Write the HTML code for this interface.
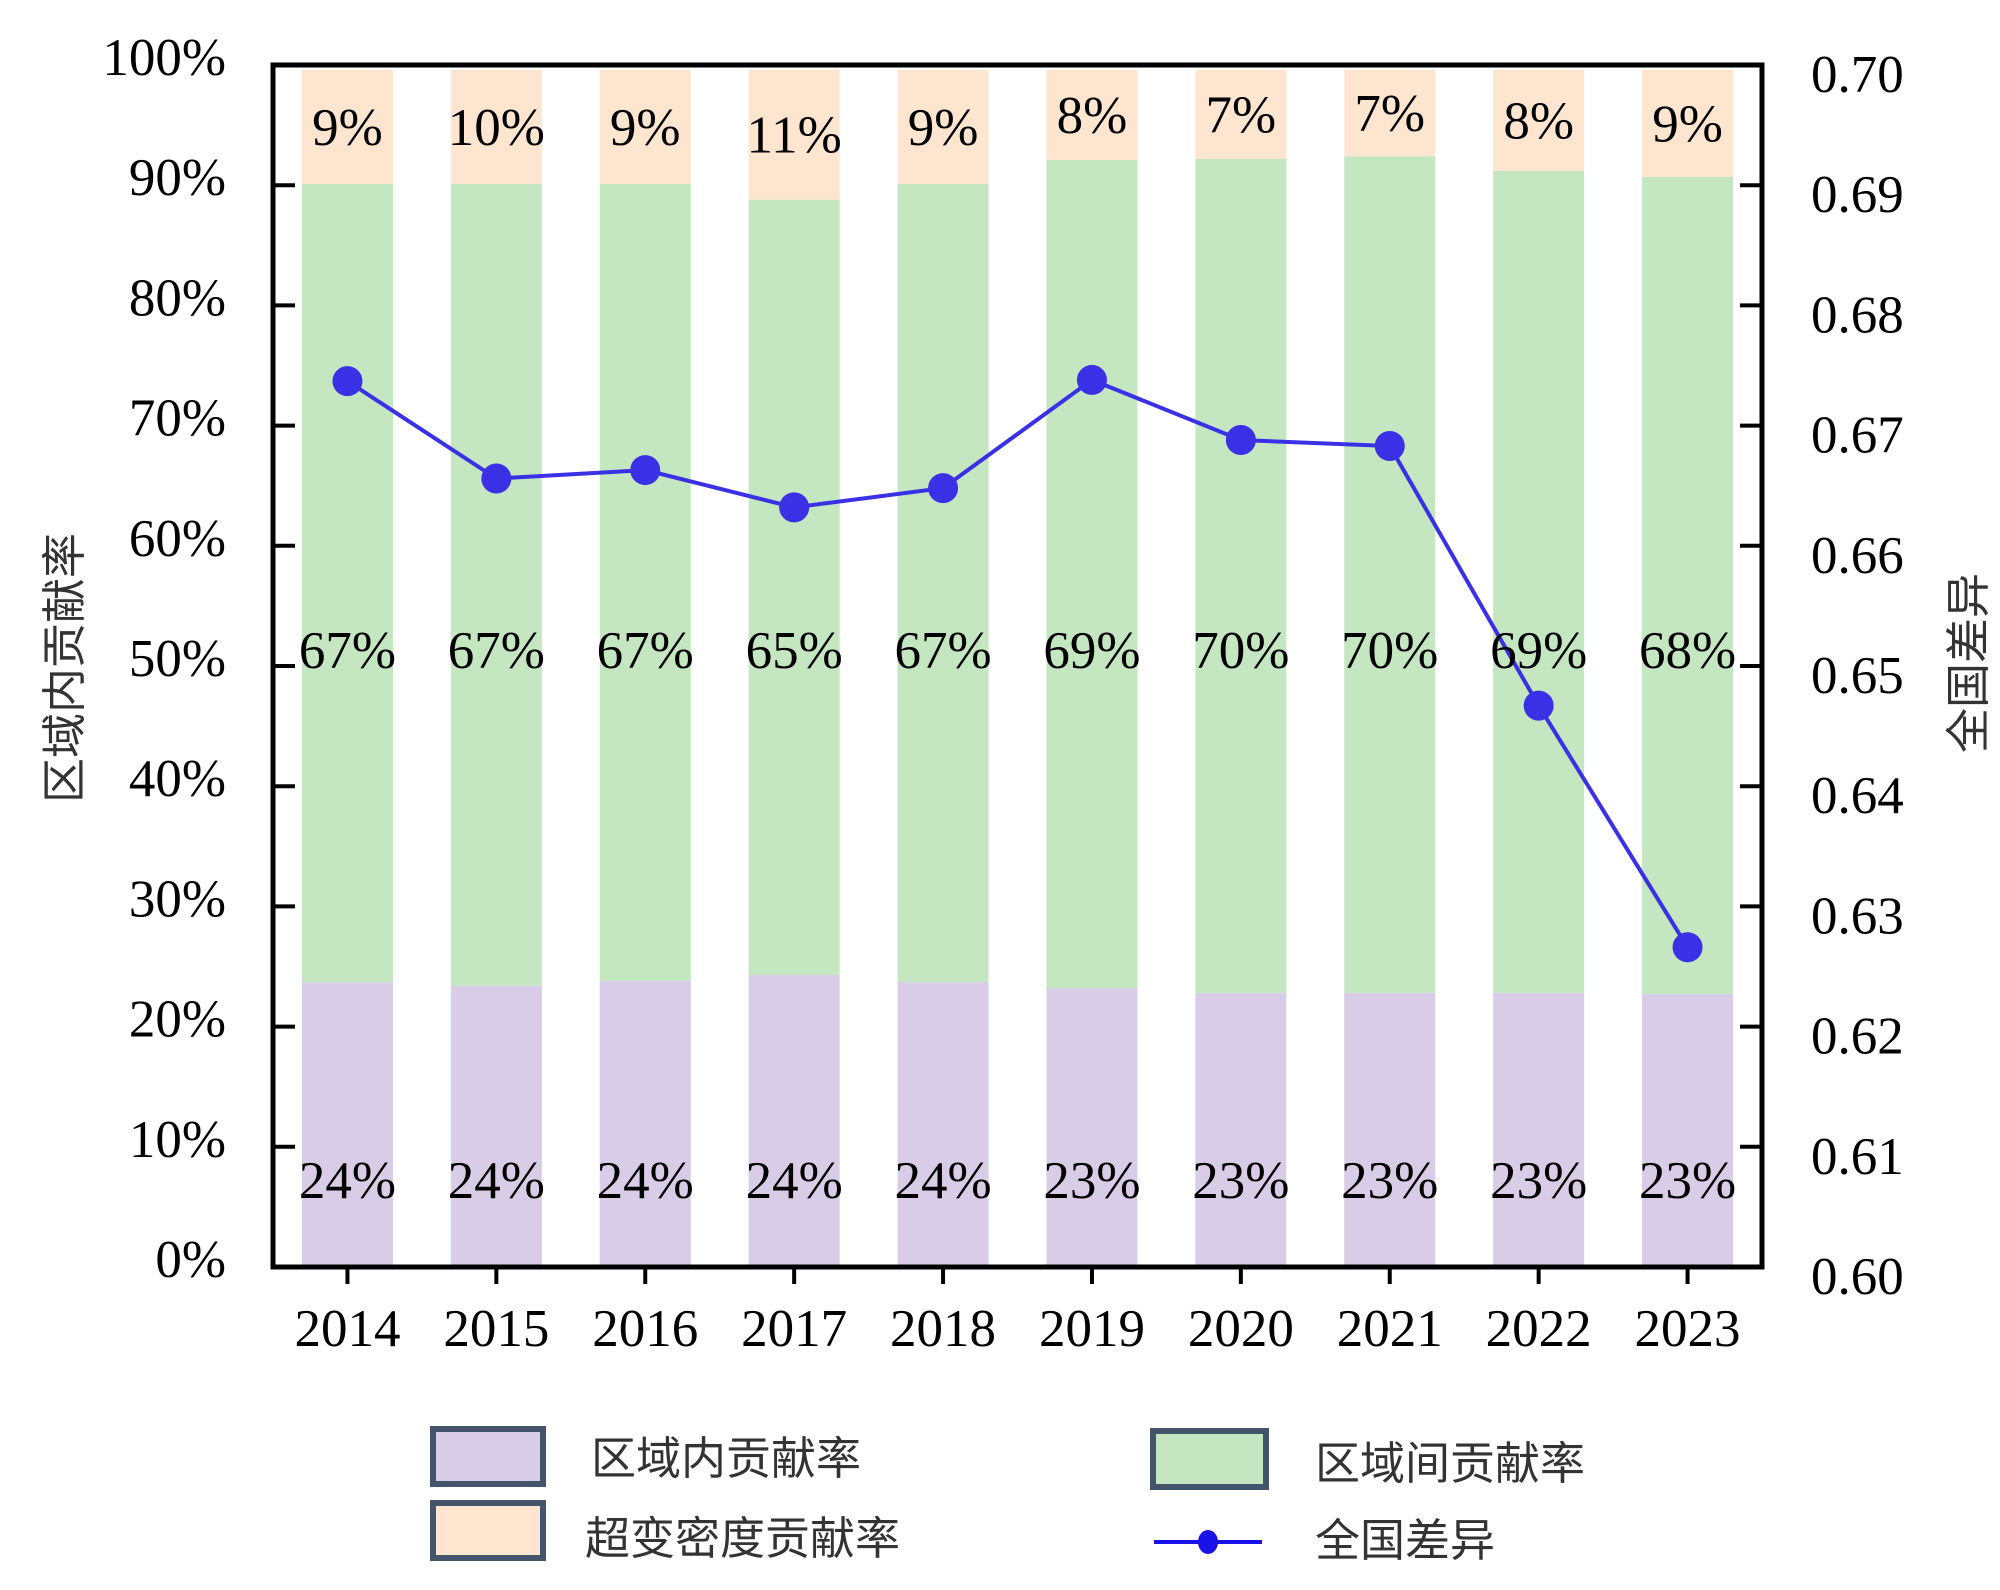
<!DOCTYPE html>
<html><head><meta charset="utf-8">
<style>
html,body{margin:0;padding:0;background:#fff;}
svg{display:block;}
.num{font-family:"Liberation Serif","Noto Serif CJK SC",serif;font-size:53px;fill:#000;}
.cjk{font-family:"Liberation Sans","Noto Sans CJK SC",sans-serif;font-size:45px;fill:#333;}
</style></head>
<body>
<svg id="chart" width="2000" height="1590" viewBox="0 0 2000 1590" xmlns="http://www.w3.org/2000/svg">
<g id="bars"></g>
<g id="line"></g>
<g id="axes"></g>
<g id="labels"></g>
<text class="cjk" font-size="55" fill="#333" text-anchor="middle" transform="translate(80,668) rotate(-90)">区域内贡献率</text>
<text class="cjk" font-size="57" fill="#333" text-anchor="middle" transform="translate(1984,663) rotate(-90)">全国差异</text>
<g>
 <rect x="433" y="1429" width="110" height="55" fill="#d9cce6" stroke="#44546a" stroke-width="6"/>
 <text class="cjk" x="591" y="1474">区域内贡献率</text>
 <rect x="433" y="1503" width="110" height="55" fill="#fde5cf" stroke="#44546a" stroke-width="6"/>
 <text class="cjk" x="585" y="1554">超变密度贡献率</text>
 <rect x="1153" y="1431" width="113" height="56" fill="#c4e6c1" stroke="#44546a" stroke-width="6"/>
 <text class="cjk" x="1315" y="1479">区域间贡献率</text>
 <line x1="1154" y1="1542" x2="1262" y2="1542" stroke="#1a10e8" stroke-width="4"/>
 <ellipse cx="1208" cy="1542" rx="10" ry="12" fill="#1a10e8"/>
 <text class="cjk" x="1315" y="1556">全国差异</text>
</g>
</svg>
<script>
const years = ["2014","2015","2016","2017","2018","2019","2020","2021","2022","2023"];
const intraShare = [23.7,23.4,23.8,24.3,23.7,23.2,22.8,22.8,22.8,22.7];
const interTop = [90.1,90.1,90.1,88.8,90.1,92.1,92.2,92.4,91.2,90.7];
const hyperTop = [99.6,99.6,99.6,99.6,99.6,99.6,99.6,99.6,99.6,99.6];
const intraLabels = ["24%","24%","24%","24%","24%","23%","23%","23%","23%","23%"];
const interLabels = ["67%","67%","67%","65%","67%","69%","70%","70%","69%","68%"];
const hyperLabels = ["9%","10%","9%","11%","9%","8%","7%","7%","8%","9%"];
const nationalDiff = [0.6737,0.6656,0.6663,0.6632,0.6648,0.6738,0.6688,0.6683,0.6467,0.6266];
const leftTicks = ["0%","10%","20%","30%","40%","50%","60%","70%","80%","90%","100%"];
const rightTicks = ["0.60","0.61","0.62","0.63","0.64","0.65","0.66","0.67","0.68","0.69","0.70"];

const NS="http://www.w3.org/2000/svg";
const L=273,R=1762,T=65,B=1267;
const band=(R-L)/years.length, bw=91;
const xc=i=>L+band*(i+0.5);
const yL=v=>B-(B-T)*v/100;
const yR=v=>B-(B-T)*(v-0.6)/0.1;
function mk(tag,attrs,parent){const e=document.createElementNS(NS,tag);for(const k in attrs)e.setAttribute(k,attrs[k]);parent.appendChild(e);return e;}
const gb=document.getElementById('bars'),gl=document.getElementById('line'),ga=document.getElementById('axes'),gt=document.getElementById('labels');

years.forEach((y,i)=>{
  const x=xc(i)-bw/2;
  let r=mk('rect',{x:x,y:yL(intraShare[i]),width:bw,height:yL(0)-yL(intraShare[i]),fill:'#d9cce6'},gb);
  
  
  r=mk('rect',{x:x,y:yL(interTop[i]),width:bw,height:yL(intraShare[i])-yL(interTop[i]),fill:'#c4e6c1'},gb);
  
  
  r=mk('rect',{x:x,y:yL(hyperTop[i]),width:bw,height:yL(interTop[i])-yL(hyperTop[i]),fill:'#fde5cf'},gb);
  
  
  let t=mk('text',{x:xc(i),y:(yL(hyperTop[i])+yL(interTop[i]))/2+18,'text-anchor':'middle','class':'num'},gt);
  t.textContent=hyperLabels[i];
  
  
  t=mk('text',{x:xc(i),y:668,'text-anchor':'middle','class':'num'},gt);
  t.textContent=interLabels[i];
  
  
  t=mk('text',{x:xc(i),y:1198,'text-anchor':'middle','class':'num'},gt);
  t.textContent=intraLabels[i];
  
  
  t=mk('text',{x:xc(i),y:1346,'text-anchor':'middle','class':'num'},ga);
  t.textContent=y;
  
  
  const tk=mk('line',{x1:xc(i),x2:xc(i),y1:B,y2:B+17,stroke:'#000','stroke-width':4},ga);
  
  
});

const pts=nationalDiff.map((v,i)=>xc(i)+','+yR(v)).join(' ');
const pl=mk('polyline',{points:pts,fill:'none',stroke:'#3a30e6','stroke-width':4},gl);


nationalDiff.forEach((v,i)=>{
  const c=mk('circle',{cx:xc(i),cy:yR(v),r:15,fill:'#3a30e6'},gl);
  
  
});

leftTicks.forEach((s,i)=>{
  const y=yL(i*10);
  let t=mk('text',{x:226,y:y+10,'text-anchor':'end','class':'num'},ga);
  t.textContent=s;
  
  
  let l=mk('line',{x1:L,x2:L+22,y1:y,y2:y,stroke:'#000','stroke-width':4},ga);
  
  
});
rightTicks.forEach((s,i)=>{
  const y=yR(0.6+i*0.01);
  let t=mk('text',{x:1811,y:y+27,'class':'num'},ga);
  t.textContent=s;
  
  
  let l=mk('line',{x1:R-22,x2:R,y1:y,y2:y,stroke:'#000','stroke-width':4},ga);
  
  
});
const fr=mk('rect',{x:L,y:T,width:R-L,height:B-T,fill:'none',stroke:'#000','stroke-width':5},ga);


</script>
</body></html>
